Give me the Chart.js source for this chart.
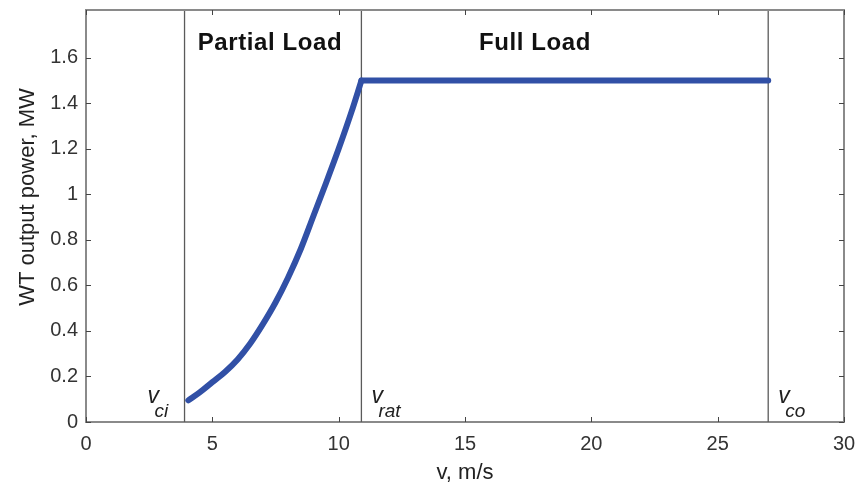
<!DOCTYPE html>
<html>
<head>
<meta charset="utf-8">
<script src="https://cdn.jsdelivr.net/npm/chart.js@4.4.1/dist/chart.umd.min.js"></script>
<style>
    html, body { margin: 0; padding: 0; background: #fff; }
    #wrap { width: 856px; height: 487px; }
</style>
</head>
<body>
<div id="wrap"><canvas id="powerCurve"></canvas></div>
<script>
// wind speed (m/s) and turbine output (MW)
const windSpeed = [4.05, 4.5, 5.0, 5.5, 6.0, 6.5, 7.0, 7.5, 8.0, 8.5, 9.0, 9.5, 10.0, 10.5, 10.9, 27.0];
const outputPower = [0.095, 0.13, 0.175, 0.22, 0.275, 0.345, 0.43, 0.525, 0.635, 0.76, 0.905, 1.05, 1.20, 1.36, 1.50, 1.50];

// cut-in, rated and cut-out speeds
const markerSpeeds = [3.9, 10.9, 27.0];
const markerNames = ['ci', 'rat', 'co'];

const regionNames = ['Partial Load', 'Full Load'];

const xTicks = [0, 5, 10, 15, 20, 25, 30];
const yTicks = [0, 0.2, 0.4, 0.6, 0.8, 1, 1.2, 1.4, 1.6];

const FONT = '"Liberation Sans", Arial, sans-serif';
const AXIS_GREY = '#8a8a8a';
const CURVE_BLUE = '#3150a6';

const curve = windSpeed.map((v, i) => ({ x: v, y: outputPower[i] }));
// split at rated speed so the smooth part does not bend the flat part
const rated = windSpeed.indexOf(markerSpeeds[1]);
const partialLoad = curve.slice(0, rated + 1);
const fullLoad = curve.slice(rated);

const markerSets = markerSpeeds.map(v => ({
    data: [{ x: v, y: 0 }, { x: v, y: 1.81 }],
    borderColor: '#5a5a5a',
    borderWidth: 1.3,
    pointRadius: 0,
    tension: 0
}));

// box, inward ticks, titles and annotations
const decorations = {
    id: 'decorations',
    afterDraw(chart) {
        const ctx = chart.ctx;
        const a = chart.chartArea;
        const xs = chart.scales.x;
        const ys = chart.scales.y;

        ctx.save();
        // top and right edges of the box
        ctx.strokeStyle = AXIS_GREY;
        ctx.lineWidth = 2;
        ctx.beginPath();
        ctx.moveTo(a.left, a.top);
        ctx.lineTo(a.right, a.top);
        ctx.lineTo(a.right, a.bottom);
        ctx.stroke();

        // small inward tick marks
        ctx.strokeStyle = '#444';
        ctx.lineWidth = 1;
        ctx.beginPath();
        xTicks.forEach(t => {
            const px = Math.round(xs.getPixelForValue(t)) + 0.5;
            ctx.moveTo(px, a.bottom); ctx.lineTo(px, a.bottom - 5);
            ctx.moveTo(px, a.top); ctx.lineTo(px, a.top + 5);
        });
        yTicks.forEach(t => {
            const py = Math.round(ys.getPixelForValue(t)) + 0.5;
            ctx.moveTo(a.left, py); ctx.lineTo(a.left + 5, py);
            ctx.moveTo(a.right, py); ctx.lineTo(a.right - 5, py);
        });
        ctx.stroke();

        // region labels
        ctx.fillStyle = '#111';
        ctx.font = 'bold 24px ' + FONT;
        ctx.letterSpacing = '0.6px';
        ctx.textAlign = 'center';
        ctx.textBaseline = 'alphabetic';
        ctx.fillText(regionNames[0], xs.getPixelForValue(7.28), 50);
        ctx.fillText(regionNames[1], xs.getPixelForValue(17.77), 50);
        ctx.letterSpacing = '0px';

        // v_ci, v_rat, v_co
        ctx.fillStyle = '#222';
        ctx.textAlign = 'left';
        markerSpeeds.forEach((v, i) => {
            const px = xs.getPixelForValue(v);
            const left = i === 0 ? px - 37 : px + 10;
            ctx.font = 'italic 23px ' + FONT;
            ctx.fillText('v', left, 403);
            ctx.font = 'italic 19px ' + FONT;
            ctx.fillText(markerNames[i], left + 7, 417);
        });

        // axis titles
        ctx.fillStyle = '#222';
        ctx.font = '22px ' + FONT;
        ctx.textAlign = 'center';
        ctx.fillText('v, m/s', (a.left + a.right) / 2, 479);

        ctx.translate(34, 197);
        ctx.rotate(-Math.PI / 2);
        ctx.fillText('WT output power, MW', 0, 0);
        ctx.restore();
    }
};

new Chart(document.getElementById('powerCurve'), {
    type: 'line',
    data: {
        datasets: [
            {
                data: partialLoad,
                borderColor: CURVE_BLUE,
                borderWidth: 6,
                pointRadius: 0,
                cubicInterpolationMode: 'monotone',
                borderCapStyle: 'round',
                borderJoinStyle: 'round'
            },
            {
                data: fullLoad,
                borderColor: CURVE_BLUE,
                borderWidth: 6,
                pointRadius: 0,
                tension: 0,
                borderCapStyle: 'round'
            },
            ...markerSets
        ]
    },
    options: {
        responsive: true,
        maintainAspectRatio: false,
        animation: false,
        events: [],
        layout: { padding: { left: 0, right: 12, top: 10, bottom: 0 } },
        plugins: {
            legend: { display: false },
            tooltip: { enabled: false }
        },
        scales: {
            x: {
                type: 'linear',
                min: 0,
                max: 30,
                afterFit: s => {
                    s.height = 65;
                    s.paddingLeft = 0;
                    s.paddingRight = 0;
                },
                afterBuildTicks: s => { s.ticks = xTicks.map(v => ({ value: v })); },
                grid: { display: false, drawTicks: false },
                border: { display: true, color: AXIS_GREY, width: 2 },
                ticks: {
                    padding: 10,
                    color: '#333',
                    font: { family: FONT, size: 20 },
                    maxRotation: 0
                }
            },
            y: {
                type: 'linear',
                min: 0,
                max: 1.81,
                afterFit: s => {
                    s.width = 86;
                    s.paddingTop = 0;
                    s.paddingBottom = 0;
                },
                afterBuildTicks: s => { s.ticks = yTicks.map(v => ({ value: v })); },
                grid: { display: false, drawTicks: false },
                border: { display: true, color: AXIS_GREY, width: 2 },
                ticks: {
                    padding: 8,
                    color: '#333',
                    font: { family: FONT, size: 20 },
                    callback: v => String(+v.toFixed(1))
                }
            }
        }
    },
    plugins: [decorations]
});
</script>
</body>
</html>
